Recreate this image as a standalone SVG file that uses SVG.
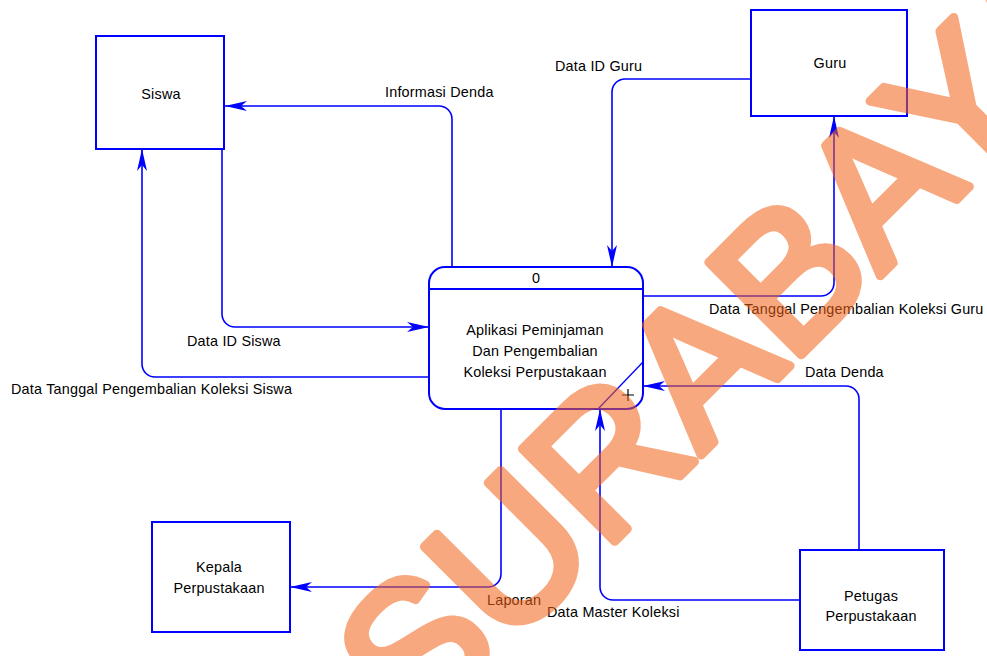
<svg xmlns="http://www.w3.org/2000/svg" width="987" height="656" viewBox="0 0 987 656">
<style>
  text { font-family: "Liberation Sans", Arial, sans-serif; font-size: 14.4px; letter-spacing: 0.2px; fill: #000; }
  .box { fill: #fff; stroke: #0000FF; stroke-width: 2; }
  .c { fill: none; stroke: #0000FF; stroke-width: 1.6; marker-end: url(#arr); }
  .mid { text-anchor: middle; }
  .wm { font-family: "Liberation Sans", Arial, sans-serif; font-size: 190px; letter-spacing: 0; fill: #F46216; stroke: #F46216; stroke-width: 9; stroke-linejoin: round; }
</style>
<defs>
  <marker id="arr" markerUnits="userSpaceOnUse" markerWidth="22" markerHeight="10" refX="22" refY="5" orient="auto" viewBox="0 0 22 10">
    <path d="M0,0 L22,5 L0,10 L6,5 Z" fill="#0000FF"/>
  </marker>
</defs>
<rect width="987" height="656" fill="#fff"/>

<g id="siswa">
  <rect class="box" x="96" y="36" width="128" height="113"/>
  <text class="mid" x="161" y="99">Siswa</text>
</g>
<g id="guru">
  <rect class="box" x="751" y="10" width="156" height="106"/>
  <text class="mid" x="830" y="68">Guru</text>
</g>
<g id="kepala">
  <rect class="box" x="152" y="522" width="138" height="110"/>
  <text class="mid" x="219" y="572">Kepala</text>
  <text class="mid" x="219" y="593">Perpustakaan</text>
</g>
<g id="petugas">
  <rect class="box" x="800" y="550" width="144" height="100"/>
  <text class="mid" x="871" y="601">Petugas</text>
  <text class="mid" x="871" y="621">Perpustakaan</text>
</g>
<g id="proses">
  <rect class="box" x="429" y="267" width="214" height="142" rx="16" ry="16"/>
  <line x1="429" y1="289" x2="643" y2="289" stroke="#0000FF" stroke-width="2"/>
  <text class="mid" x="536" y="283">0</text>
  <text class="mid" x="535" y="335">Aplikasi Peminjaman</text>
  <text class="mid" x="535" y="356">Dan Pengembalian</text>
  <text class="mid" x="535" y="377">Koleksi Perpustakaan</text>
  <line x1="643" y1="362" x2="598" y2="409" stroke="#0000FF" stroke-width="1.3"/>
  <path d="M622,395 H634 M628,389 V401" stroke="#000" stroke-width="1.2" fill="none"/>
</g>

<g id="connectors">
  <g id="c-informasi-denda">
    <path class="c" d="M452,267 V119 A13,13 0 0 0 439,106 H225"/>
    <text x="385" y="97">Informasi Denda</text>
  </g>
  <g id="c-data-id-siswa">
    <path class="c" d="M222,149 V314 A13,13 0 0 0 235,327 H429"/>
    <text x="187" y="346">Data ID Siswa</text>
  </g>
  <g id="c-tgl-siswa">
    <path class="c" d="M429,377 H155 A13,13 0 0 1 142,364 V149"/>
    <text x="11" y="394">Data Tanggal Pengembalian Koleksi Siswa</text>
  </g>
  <g id="c-data-id-guru">
    <path class="c" d="M751,79 H625 A13,13 0 0 0 612,92 V267"/>
    <text x="555" y="71">Data ID Guru</text>
  </g>
  <g id="c-tgl-guru">
    <path class="c" d="M643,296 H821 A13,13 0 0 0 834,283 V116"/>
    <text x="709" y="314">Data Tanggal Pengembalian Koleksi Guru</text>
  </g>
  <g id="c-laporan">
    <path class="c" d="M501,409 V574 A13,13 0 0 1 488,587 H290"/>
    <text x="487" y="605">Laporan</text>
  </g>
  <g id="c-master">
    <path class="c" d="M800,600 H613 A13,13 0 0 1 600,587 V409"/>
    <text x="547" y="617">Data Master Koleksi</text>
  </g>
  <g id="c-denda">
    <path class="c" d="M859,550 V399 A13,13 0 0 0 846,386 H643"/>
    <text x="805" y="377">Data Denda</text>
  </g>
</g>

<g id="watermark" opacity="0.55">
  <text class="wm" transform="translate(417,739) rotate(-45)">SURABAYA</text>
</g>
</svg>
